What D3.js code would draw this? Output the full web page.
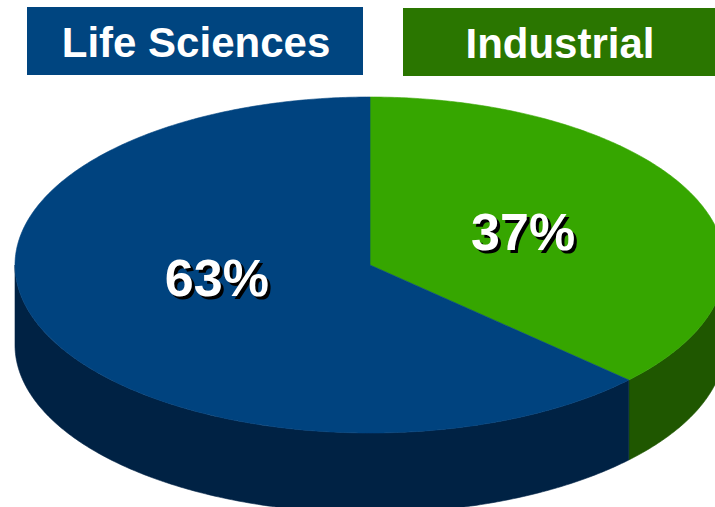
<!DOCTYPE html>
<html>
<head>
<meta charset="utf-8">
<script src="https://cdn.jsdelivr.net/npm/d3@7"></script>
<style>
  html, body { margin: 0; padding: 0; background: #ffffff; }
  svg { display: block; }
  text { font-family: "Liberation Sans", Arial, sans-serif; font-weight: bold; }
</style>
</head>
<body>
<svg id="chart" width="715" height="507"></svg>
<script>
// Revenue split by segment
const categories = ["Industrial", "Life Sciences"];
const shares = [37, 63];
const valueLabels = ["37%", "63%"];
const legendOrder = ["Life Sciences", "Industrial"];

const topColors = { "Industrial": "#36a600", "Life Sciences": "#00437f" };
const sideColors = { "Industrial": "#1f5700", "Life Sciences": "#002244" };
const legendColors = { "Industrial": "#2a7600", "Life Sciences": "#004580" };

const svg = d3.select("#chart");
const cx = 370, cy = 265, rx = 355, ry = 168, depth = 80;

const pie = d3.pie().sort(null).value(d => d)(shares);

// point on the tilted rim; angle measured clockwise from 12 o'clock
const rim = (a, dy = 0) => [cx + rx * Math.sin(a), cy - ry * Math.cos(a) + dy];

function arcPts(a0, a1, dy) {
  const n = Math.max(2, Math.ceil(Math.abs(a1 - a0) / 0.01));
  return d3.range(n + 1).map(i => rim(a0 + (a1 - a0) * i / n, dy));
}

const line = d3.line();

// side walls: only the front half (from 3 o'clock round to 9 o'clock) is visible
const gSide = svg.append("g");
pie.forEach((p, i) => {
  const a0 = Math.max(p.startAngle, Math.PI / 2);
  const a1 = Math.min(p.endAngle, 3 * Math.PI / 2);
  if (a1 <= a0) return;
  const pts = arcPts(a0, a1, 0).concat(arcPts(a1, a0, depth));
  gSide.append("path")
    .attr("d", line(pts) + "Z")
    .attr("fill", sideColors[categories[i]])
    .attr("stroke", sideColors[categories[i]])
    .attr("stroke-width", 0.6);
});

// top faces
const gTop = svg.append("g");
pie.forEach((p, i) => {
  const pts = [[cx, cy]].concat(arcPts(p.startAngle, p.endAngle, 0));
  gTop.append("path")
    .attr("d", line(pts) + "Z")
    .attr("fill", topColors[categories[i]])
    .attr("stroke", topColors[categories[i]])
    .attr("stroke-width", 0.6);
});

// value labels with drop shadow
const labelPos = [
  { f: 0.47, dy: -2 },
  { f: 0.47, dy: -18 }
];
const gLab = svg.append("g");
pie.forEach((p, i) => {
  const mid = (p.startAngle + p.endAngle) / 2;
  const x = cx + rx * labelPos[i].f * Math.sin(mid);
  const y = cy - ry * labelPos[i].f * Math.cos(mid) + labelPos[i].dy;
  [["#000000", 3], ["#ffffff", 0]].forEach(([c, o]) => {
    gLab.append("text")
      .attr("x", x + o).attr("y", y + o)
      .attr("text-anchor", "middle")
      .attr("dominant-baseline", "central")
      .attr("font-size", 52)
      .attr("fill", c)
      .text(valueLabels[i]);
  });
});

// segment headers
const boxes = {
  "Life Sciences": { x: 27, y: 7, w: 336, h: 68 },
  "Industrial": { x: 403, y: 8, w: 312, h: 68 }
};
const gLeg = svg.append("g");
legendOrder.forEach(name => {
  const b = boxes[name];
  gLeg.append("rect")
    .attr("x", b.x).attr("y", b.y).attr("width", b.w).attr("height", b.h)
    .attr("fill", legendColors[name]);
  gLeg.append("text")
    .attr("x", b.x + b.w / 2 + 1).attr("y", b.y + b.h / 2 + 1)
    .attr("text-anchor", "middle")
    .attr("dominant-baseline", "central")
    .attr("font-size", 42)
    .attr("fill", "#ffffff")
    .text(name);
});
</script>
</body>
</html>
